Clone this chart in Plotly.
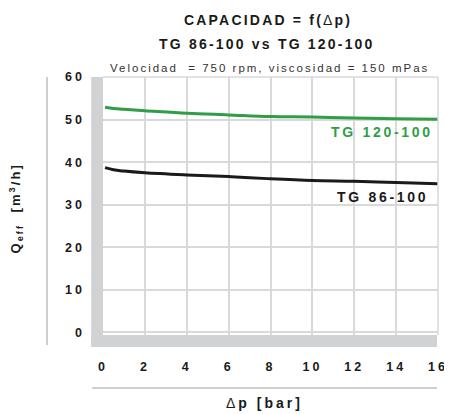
import plotly.graph_objects as go

# ---- data ----
dp = [0.1, 0.5, 1, 2, 4, 6, 8, 10, 12, 14, 16]
q_tg120 = [52.9, 52.6, 52.4, 52.1, 51.5, 51.1, 50.7, 50.6, 50.35, 50.2, 50.05]
q_tg86 = [38.7, 38.2, 37.9, 37.5, 37.0, 36.6, 36.1, 35.7, 35.5, 35.2, 34.95]
x_ticks = [0, 2, 4, 6, 8, 10, 12, 14, 16]
y_ticks = [0, 10, 20, 30, 40, 50, 60]

GREEN = "#2f9e46"
BLACK = "#1a1a1a"
BAND = "#d1d2d4"
GRID = "#d9d9d9"
FONT = "Liberation Sans, Arial, sans-serif"

W, H = 452, 414
OFF = 8  # page body margin
L, R, T, B = 103, 444, 77, 335  # target plot area in screen pixels
PW, PH = R - L, B - T


def px(x):
    return (x - L) / PW


def py(y):
    return (B - y) / PH


def sp(text, ls):
    return f"<span style='letter-spacing:{ls}px'>{text}</span>"


fig = go.Figure()
fig.add_trace(go.Scatter(x=dp, y=q_tg120, mode="lines", line=dict(color=GREEN, width=3, shape="spline"),
                         showlegend=False, hoverinfo="skip"))
fig.add_trace(go.Scatter(x=dp, y=q_tg86, mode="lines", line=dict(color=BLACK, width=3, shape="spline"),
                         showlegend=False, hoverinfo="skip"))

fig.update_layout(
    width=W, height=H,
    margin=dict(l=L - OFF, r=W - (R - OFF), t=T - OFF, b=H - (B - OFF), pad=0),
    paper_bgcolor="white", plot_bgcolor="white",
    font=dict(family=FONT, color=BLACK),
    xaxis=dict(range=[0, 16], tickvals=x_ticks, ticktext=[sp(str(v), 3) for v in x_ticks],
               showgrid=True, gridcolor=GRID, gridwidth=1.5, zeroline=False, showline=False,
               tickfont=dict(size=12.5, weight="bold", color=BLACK), ticks="", ticklabelstandoff=22),
    yaxis=dict(range=[-0.6, 60], tickvals=y_ticks, ticktext=[sp(str(v), 3) for v in y_ticks],
               showgrid=True, gridcolor=GRID, gridwidth=1.5, zeroline=False, showline=False,
               tickfont=dict(size=12.5, weight="bold", color=BLACK), ticks="", ticklabelstandoff=17),
)

shapes = [
    dict(type="rect", xref="paper", yref="paper", x0=px(91), x1=0, y0=py(347), y1=1,
         fillcolor=BAND, line=dict(width=0), layer="above"),
    dict(type="rect", xref="paper", yref="paper", x0=px(91), x1=px(443), y0=py(347), y1=0,
         fillcolor=BAND, line=dict(width=0), layer="above"),
    dict(type="line", xref="paper", yref="paper", x0=0, x1=1, y0=1, y1=1,
         line=dict(color=GRID, width=1.5)),
    dict(type="line", xref="paper", yref="paper", x0=1, x1=1, y0=0, y1=1,
         line=dict(color=GRID, width=1.5)),
    dict(type="line", xref="paper", yref="paper", x0=px(46), x1=px(46), y0=py(345), y1=py(77),
         line=dict(color="#cfcfcf", width=2)),
    dict(type="line", xref="paper", yref="paper", x0=px(92), x1=px(443), y0=py(388), y1=py(388),
         line=dict(color="#cfcfcf", width=2)),
]
fig.update_layout(shapes=shapes)

ann = [
    dict(text=sp("CAPACIDAD = f(", 2.2) + "<span style='font-weight:normal'>" + sp("Δ", 2.2) + "</span>" + sp("p)", 2.2),
         x=px(271), y=py(20), size=14, color=BLACK, bold=True, angle=0),
    dict(text=sp("TG 86-100 vs TG 120-100", 2.2), x=px(270), y=py(44), size=14, color=BLACK, bold=True, angle=0),
    dict(text=sp("Velocidad  = 750 rpm, viscosidad = 150 mPas", 2.0), x=px(272), y=py(68), size=11.5,
         color="#333333", bold=False, angle=0),
    dict(text=sp("TG 120-100", 2.7), x=px(387), y=py(132), size=14, color=GREEN, bold=True, angle=0),
    dict(text=sp("TG 86-100", 2.7), x=px(388), y=py(197), size=14, color=BLACK, bold=True, angle=0),
    dict(text="<span style='font-weight:normal'>" + sp("Δ", 3) + "</span>" + sp("p [bar]", 3),
         x=px(267), y=py(403), size=14, color=BLACK, bold=True, angle=0),
    dict(text=sp("Q<sub>eff</sub>  [m<sup>3</sup>/h]", 2.1), x=px(14), y=py(208), size=13,
         color=BLACK, bold=True, angle=-90),
]
for a in ann:
    fig.add_annotation(text=a["text"], x=a["x"], y=a["y"], xref="paper", yref="paper",
                       xanchor="center", yanchor="middle", showarrow=False, textangle=a["angle"],
                       font=dict(size=a["size"], color=a["color"], family=FONT,
                                 weight="bold" if a["bold"] else "normal"))

fig.write_html("out.html")
